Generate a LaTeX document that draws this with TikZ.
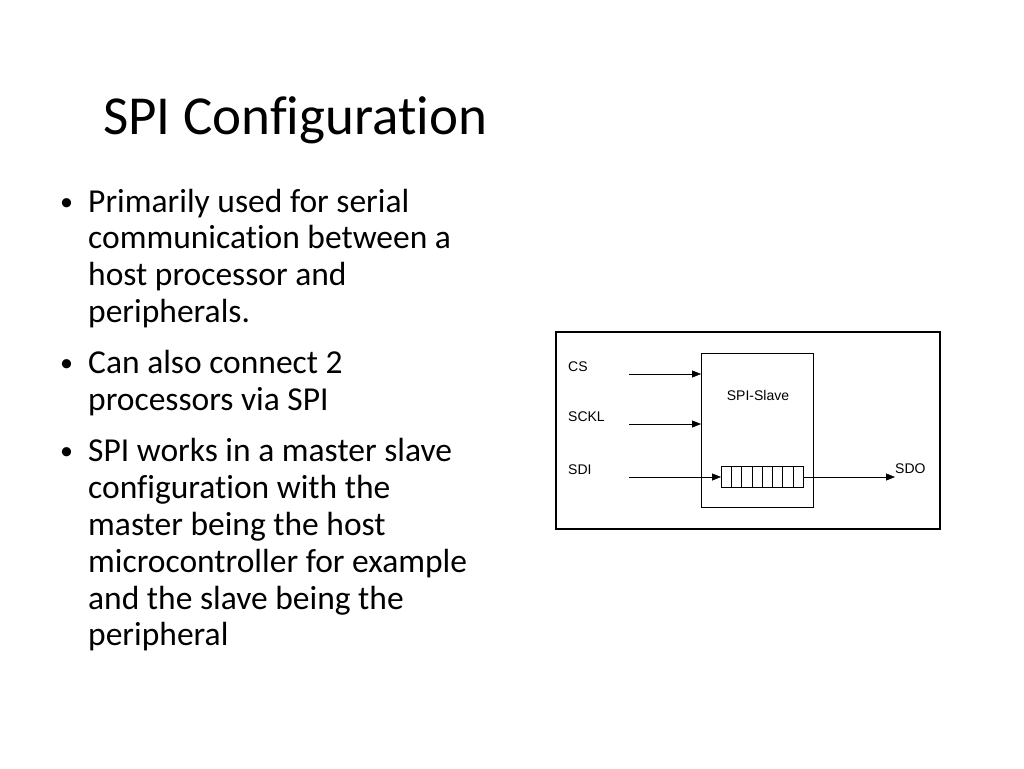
\documentclass[tikz,border=0pt]{standalone}
\usepackage{fontspec}
\setmainfont[Ligatures=NoCommon]{Carlito}
\newfontfamily\arialfont{Liberation Sans}
\usetikzlibrary{arrows.meta}

\begin{document}
\begin{tikzpicture}[x=1pt,y=-1pt,>={Triangle[length=9pt,width=7pt]},
                     sig/.style={font=\arialfont\fontsize{14}{14}\selectfont,anchor=base west},
                     line/.style={font=\fontsize{33.5}{33.5}\selectfont,anchor=base west}]
                     \useasboundingbox (0,0) rectangle (1024,768);
                     \node[anchor=base west,inner sep=0,font=\fontsize{55}{55}\selectfont] (title) at (103,134) {SPI Configuration};
                     \foreach \y/\t [count=\i] in {212/Primarily used for serial,248/communication between a,285/host processor and,322/peripherals.,
                                        373/Can also connect 2,410/processors via SPI,461/SPI works in a master slave,498/configuration with the,
                                        535/master being the host,572/microcontroller for example,609/and the slave being the,645/peripheral}{
                       \node[line,inner sep=0] (l\i) at (88,\y) {\t};
                     }
                     \foreach \y [count=\i] in {212,373,461}{
                       \node[inner sep=0,anchor=base west,font=\fontsize{26}{26}\selectfont] (b\i) at (60,\y-2) {•};
                     }
                     % block diagram
                     \draw[line width=2.5pt] (556,332) rectangle (940,529);
                     \draw (701,353) rectangle (813,507);
                     \node[sig,anchor=center] (slave) at (758,395) {SPI-Slave};
                     \draw (721,466) rectangle (803,487);
                     \foreach \k in {1,...,7}{
                       \draw (721+\k*10.25,466) -- (721+\k*10.25,487);
                     }
                     \coordinate (reg) at (721,477);
                     \coordinate (regout) at (803,477);
                     \foreach \y/\t/\n in {374/CS/cs,424/SCKL/sckl,477/SDI/sdi}{
                       \node[sig,inner sep=0] (\n) at (568,\y-3) {\t};
                       \coordinate (in-\n) at (629,\y);
                     }
                     \draw[->] (in-cs) -- (701,374);
                     \draw[->] (in-sckl) -- (701,424);
                     \draw[->] (in-sdi) -- (reg);
                     \node[sig,inner sep=0] (sdo) at (895,473) {SDO};
                     \draw[->] (regout) -- (sdo.west |- regout);
                   \end{tikzpicture}
\end{document}
